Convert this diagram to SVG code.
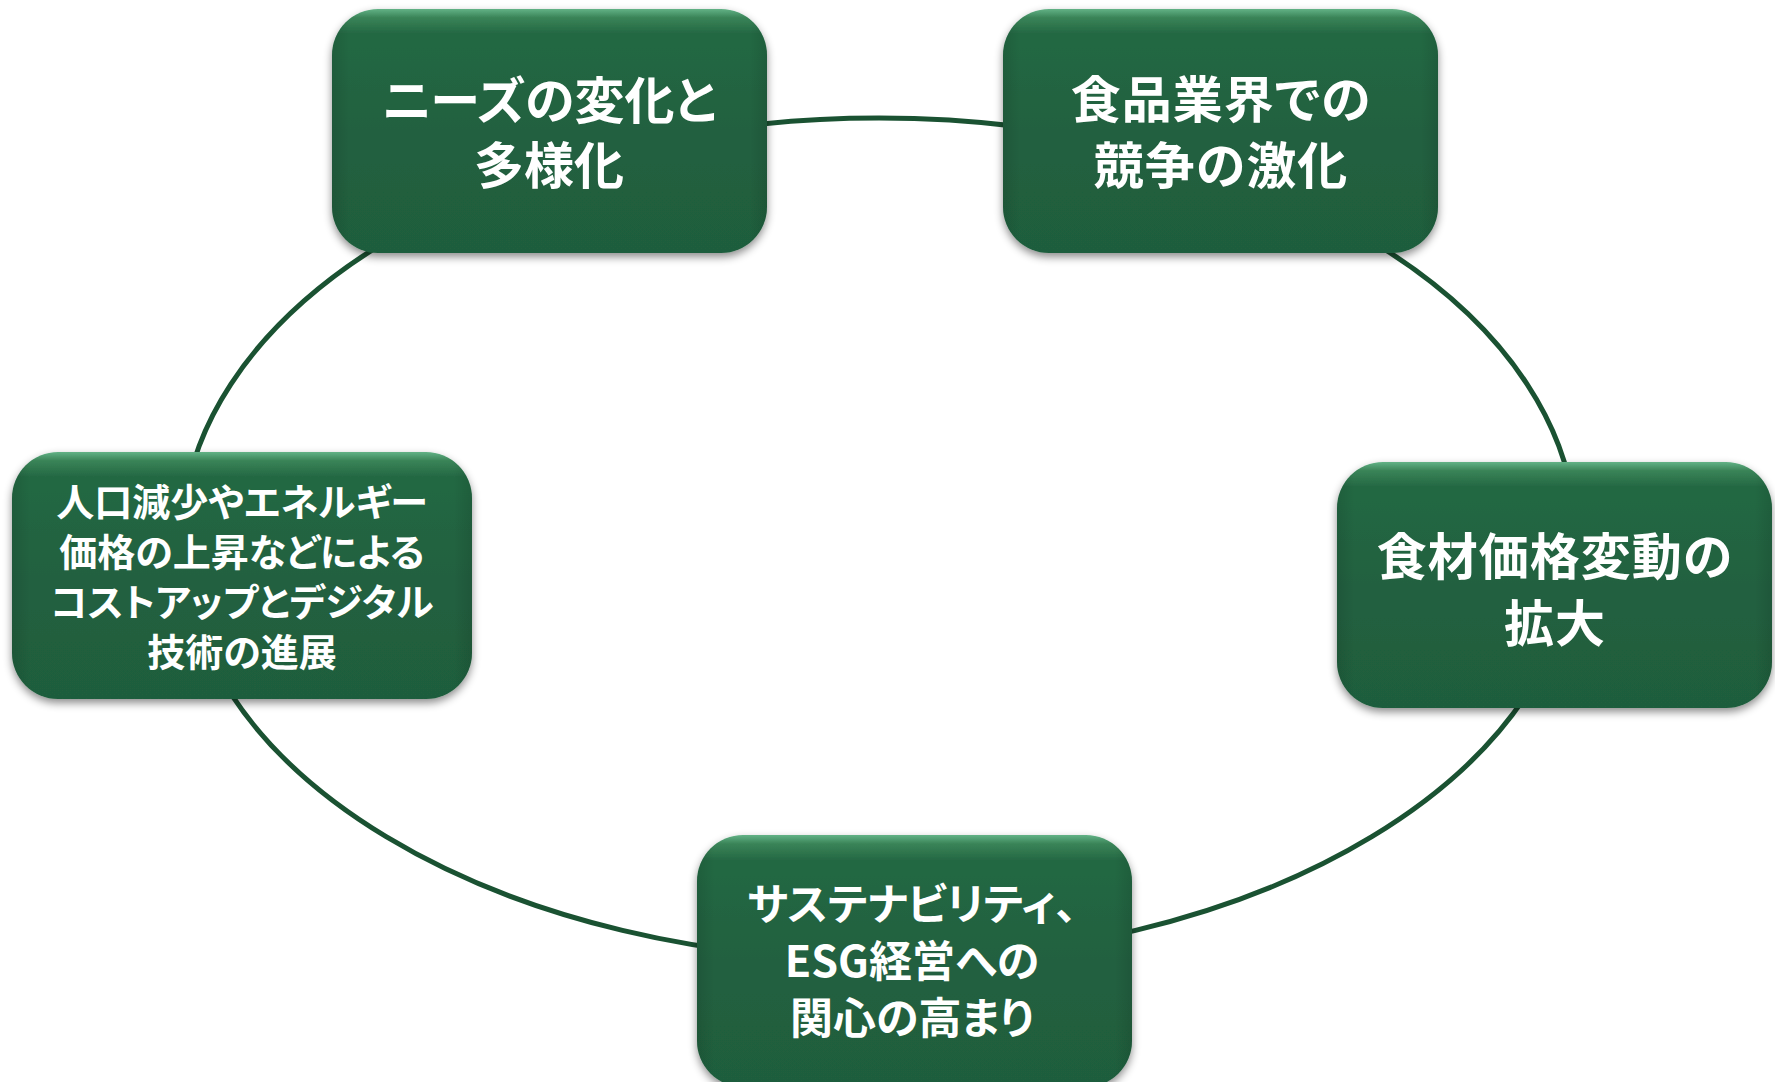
<svg xmlns="http://www.w3.org/2000/svg" width="1775" height="1082" viewBox="0 0 1775 1082">
  <defs>
    <linearGradient id="boxFill" x1="0" y1="0" x2="0" y2="1">
      <stop offset="0" stop-color="#62b286"/>
      <stop offset="0.035" stop-color="#3a8458"/>
      <stop offset="0.10" stop-color="#246843"/>
      <stop offset="0.5" stop-color="#216140"/>
      <stop offset="1" stop-color="#1f5d3c"/>
    </linearGradient>
    <linearGradient id="sideShade" x1="0" y1="0" x2="1" y2="0">
      <stop offset="0" stop-color="#000" stop-opacity="0.10"/>
      <stop offset="0.04" stop-color="#000" stop-opacity="0"/>
      <stop offset="0.96" stop-color="#000" stop-opacity="0"/>
      <stop offset="1" stop-color="#000" stop-opacity="0.10"/>
    </linearGradient>
    <filter id="shadow" x="-10%" y="-10%" width="120%" height="130%">
      <feDropShadow dx="0" dy="4" stdDeviation="4" flood-color="#000" flood-opacity="0.45"/>
    </filter>
  </defs>
  <style>
    .box { fill: url(#boxFill); filter: url(#shadow); }
    .shade { fill: url(#sideShade); }
    .label { fill: #ffffff; font-family: "Noto Sans CJK JP", "Noto Sans", sans-serif; font-weight: bold; text-anchor: middle; dominant-baseline: central; font-feature-settings: "palt"; }
    .n1 { font-size: 50px; }
    .big { font-size: 50px; letter-spacing: 1px; }
    .mid { font-size: 43px; }
    .small { font-size: 38px; }
    .ring { fill: none; stroke: #1a5232; stroke-width: 5; }
  </style>
  <rect width="1775" height="1082" fill="#ffffff"/>

  <g id="connectors">
    <ellipse class="ring" cx="879" cy="539" rx="697" ry="421"/>
  </g>

  <g id="node-needs">
    <rect class="box" x="332" y="9" width="435" height="244" rx="46"/>
    <rect class="shade" x="332" y="9" width="435" height="244" rx="46"/>
    <text class="label n1" x="549" y="97">ニーズの変化と</text>
    <text class="label n1" x="549" y="162">多様化</text>
  </g>

  <g id="node-competition">
    <rect class="box" x="1003" y="9" width="435" height="244" rx="46"/>
    <rect class="shade" x="1003" y="9" width="435" height="244" rx="46"/>
    <text class="label big" x="1221" y="96">食品業界での</text>
    <text class="label big" x="1221" y="162">競争の激化</text>
  </g>

  <g id="node-cost">
    <rect class="box" x="12" y="452" width="460" height="247" rx="46"/>
    <rect class="shade" x="12" y="452" width="460" height="247" rx="46"/>
    <text class="label small" x="242" y="499">人口減少やエネルギー</text>
    <text class="label small" x="242" y="549">価格の上昇などによる</text>
    <text class="label small" x="242" y="599">コストアップとデジタル</text>
    <text class="label small" x="242" y="649">技術の進展</text>
  </g>

  <g id="node-price">
    <rect class="box" x="1337" y="462" width="435" height="246" rx="46"/>
    <rect class="shade" x="1337" y="462" width="435" height="246" rx="46"/>
    <text class="label big" x="1555" y="553">食材価格変動の</text>
    <text class="label big" x="1555" y="620">拡大</text>
  </g>

  <g id="node-esg">
    <rect class="box" x="697" y="835" width="435" height="252" rx="46"/>
    <rect class="shade" x="697" y="835" width="435" height="252" rx="46"/>
    <text class="label mid" x="912" y="901">サステナビリティ、</text>
    <text class="label mid" x="912" y="958">ESG経営への</text>
    <text class="label mid" x="912" y="1015">関心の高まり</text>
  </g>
</svg>
